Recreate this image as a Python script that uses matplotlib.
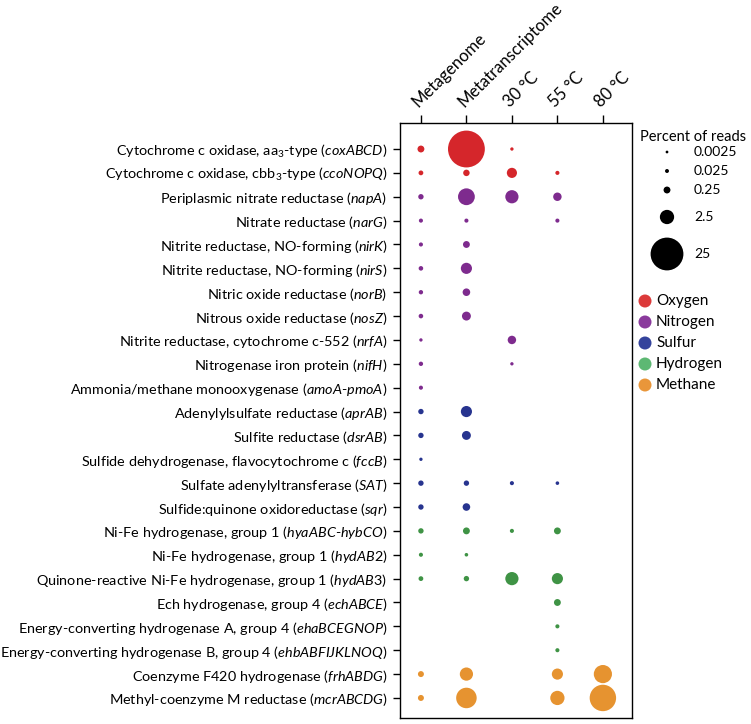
import numpy as np
import matplotlib
matplotlib.use("Agg")
import matplotlib.pyplot as plt

plt.rcParams['font.family'] = ['Lato', 'DejaVu Sans']
plt.rcParams['mathtext.fontset'] = 'custom'
plt.rcParams['mathtext.rm'] = 'Lato'
plt.rcParams['mathtext.it'] = 'Lato:italic'

columns = ["Metagenome", "Metatranscriptome", "30 °C", "55 °C", "80 °C"]

genes = [
    r"Cytochrome c oxidase, aa$_3$-type ($\mathit{coxABCD}$)",
    r"Cytochrome c oxidase, cbb$_3$-type ($\mathit{ccoNOPQ}$)",
    r"Periplasmic nitrate reductase ($\mathit{napA}$)",
    r"Nitrate reductase ($\mathit{narG}$)",
    r"Nitrite reductase, NO-forming ($\mathit{nirK}$)",
    r"Nitrite reductase, NO-forming ($\mathit{nirS}$)",
    r"Nitric oxide reductase ($\mathit{norB}$)",
    r"Nitrous oxide reductase ($\mathit{nosZ}$)",
    r"Nitrite reductase, cytochrome c-552 ($\mathit{nrfA}$)",
    r"Nitrogenase iron protein ($\mathit{nifH}$)",
    r"Ammonia/methane monooxygenase ($\mathit{amoA}$-$\mathit{pmoA}$)",
    r"Adenylylsulfate reductase ($\mathit{aprAB}$)",
    r"Sulfite reductase ($\mathit{dsrAB}$)",
    r"Sulfide dehydrogenase, flavocytochrome c ($\mathit{fccB}$)",
    r"Sulfate adenylyltransferase ($\mathit{SAT}$)",
    r"Sulfide:quinone oxidoreductase ($\mathit{sqr}$)",
    r"Ni-Fe hydrogenase, group 1 ($\mathit{hyaABC}$-$\mathit{hybCO}$)",
    r"Ni-Fe hydrogenase, group 1 ($\mathit{hydAB2}$)",
    r"Quinone-reactive Ni-Fe hydrogenase, group 1 ($\mathit{hydAB3}$)",
    r"Ech hydrogenase, group 4 ($\mathit{echABCE}$)",
    r"Energy-converting hydrogenase A, group 4 ($\mathit{ehaBCEGNOP}$)",
    r"Energy-converting hydrogenase B, group 4 ($\mathit{ehbABFIJKLNOQ}$)",
    r"Coenzyme F420 hydrogenase ($\mathit{frhABDG}$)",
    r"Methyl-coenzyme M reductase ($\mathit{mcrABCDG}$)",
]

category = ["Oxygen", "Oxygen", "Nitrogen", "Nitrogen", "Nitrogen", "Nitrogen",
            "Nitrogen", "Nitrogen", "Nitrogen", "Nitrogen", "Nitrogen",
            "Sulfur", "Sulfur", "Sulfur", "Sulfur", "Sulfur",
            "Hydrogen", "Hydrogen", "Hydrogen", "Hydrogen", "Hydrogen", "Hydrogen",
            "Methane", "Methane"]

nan = np.nan
metagenome = [0.25, 0.06, 0.1, 0.03, 0.03, 0.05, 0.04, 0.05, 0.01, 0.04, 0.03,
              0.1, 0.1, 0.01, 0.1, 0.1, 0.1, 0.03, 0.06, nan, nan, nan, 0.15, 0.15]
metatranscriptome = [34.0, 0.2, 4.0, 0.03, 0.25, 1.2, 0.35, 0.6, nan, nan, nan,
                     1.2, 0.6, nan, 0.1, 0.35, 0.25, 0.015, 0.1, nan, nan, nan, 2.0, 7.0]
temp30 = [0.01, 0.9, 2.0, nan, nan, nan, nan, nan, 0.5, 0.01, nan,
          nan, nan, nan, 0.03, nan, 0.03, nan, 2.0, nan, nan, nan, nan, nan]
temp55 = [nan, 0.03, 0.5, 0.03, nan, nan, nan, nan, nan, nan, nan,
          nan, nan, nan, 0.015, nan, 0.25, nan, 1.2, 0.25, 0.03, 0.03, 1.2, 2.5]
temp80 = [nan] * 22 + [5.0, 14.0]

legend_values = [0.0025, 0.025, 0.25, 2.5, 25]
legend_labels = ["0.0025", "0.025", "0.25", "2.5", "25"]
categories = ["Oxygen", "Nitrogen", "Sulfur", "Hydrogen", "Methane"]
colors = {"Oxygen": "#d5262b", "Nitrogen": "#7e2b8e", "Sulfur": "#27348f",
          "Hydrogen": "#3f9345", "Methane": "#e69330"}
legend_colors = {"Oxygen": "#dc3a3a", "Nitrogen": "#8a3a9c", "Sulfur": "#34439c",
                 "Hydrogen": "#5db873", "Methane": "#e9963a"}


def size(v):
    v = np.asarray(v, dtype=float)
    d = 8.5 * np.power(v, 0.4) + 2.0  # diameter in px
    return (d * 0.72) ** 2


W, H = 751, 724
fig = plt.figure(figsize=(W / 100, H / 100), dpi=100)
ax = fig.add_axes([400 / W, 1 - 718 / H, 232 / W, 595 / H])

series = [metagenome, metatranscriptome, temp30, temp55, temp80]
rows = np.arange(len(genes))
row_colors = [colors[c] for c in category]
for j, vals in enumerate(series):
    vals = np.array(vals, dtype=float)
    mask = ~np.isnan(vals)
    ax.scatter(np.full(mask.sum(), j), rows[mask], s=size(vals[mask]),
               c=[row_colors[i] for i in rows[mask]], edgecolors='none', zorder=3)

ax.set_xlim(-0.46, 4.64)
ax.set_ylim(23.84, -1.09)
ax.set_yticks(rows)
ax.set_yticklabels(genes, fontsize=10.4)
ax.set_xticks(range(len(columns)))
ax.xaxis.tick_top()
ax.set_xticklabels(columns, rotation=45, ha='left', va='bottom',
                   rotation_mode='anchor', fontsize=12)
ax.tick_params(axis='x', length=6, width=1, pad=3)
ax.tick_params(axis='y', length=5, width=1, pad=4)
for sp in ax.spines.values():
    sp.set_linewidth(1.0)

# legend
lax = fig.add_axes([0, 0, 1, 1])
lax.set_xlim(0, W)
lax.set_ylim(H, 0)
lax.axis('off')
lax.text(640, 137, "Percent of reads", fontsize=10.5, va='center', ha='left')
leg_y = [152, 171, 190, 217, 254]
lax.scatter([667] * len(legend_values), leg_y, s=size(legend_values),
            c='black', edgecolors='none')
for y, lab in zip(leg_y, legend_labels):
    lax.text(694, y, lab, fontsize=10, va='center', ha='left')

cat_y = [301, 322, 343, 364, 385]
lax.scatter([645] * len(categories), cat_y, s=(13 * 0.72) ** 2,
            c=[legend_colors[c] for c in categories], edgecolors='none')
for y, lab in zip(cat_y, categories):
    lax.text(656, y, lab, fontsize=11, va='center', ha='left')

fig.savefig("out.png", dpi=100)
